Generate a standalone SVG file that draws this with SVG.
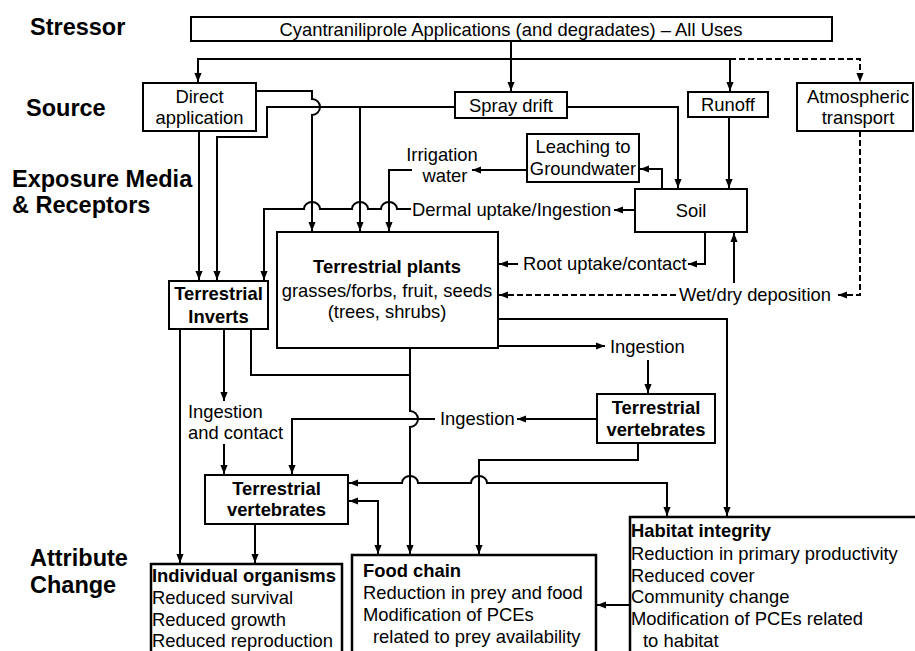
<svg xmlns="http://www.w3.org/2000/svg" width="915" height="651" viewBox="0 0 915 651">
<defs>
<marker id="ah" viewBox="0 0 10 8" markerWidth="9" markerHeight="7.5" refX="10" refY="4" orient="auto-start-reverse" markerUnits="userSpaceOnUse">
<path d="M0,0 L10,4 L0,8 z" fill="#000" stroke="none"/>
</marker>
</defs>
<style>
.box{fill:#fff;stroke:#000;stroke-width:2}
.bbox{fill:#fff;stroke:#000;stroke-width:2.5}
text{font-family:"Liberation Sans",Arial,Helvetica,sans-serif;font-size:18.4px;fill:#000}
.b{font-weight:bold}
.c{text-anchor:middle}
.lbl{font-size:23.5px;font-weight:bold}
.ln{fill:none;stroke:#000;stroke-width:2}
.ar{marker-end:url(#ah)}
.ar2{marker-start:url(#ah);marker-end:url(#ah)}
.d{stroke-dasharray:6 3}
</style>
<rect width="915" height="651" fill="#fff"/>

<g id="tier-labels">
<text class="lbl" x="30" y="35">Stressor</text>
<text class="lbl" x="26" y="116">Source</text>
<text class="lbl" x="12" y="187">Exposure Media</text>
<text class="lbl" x="12" y="213">&amp; Receptors</text>
<text class="lbl" x="30" y="566">Attribute</text>
<text class="lbl" x="30" y="593">Change</text>
</g>

<g id="connectors">
<path class="ln ar" d="M511,41 V91"/>
<path class="ln ar" d="M730,59 H198 V82"/>
<path class="ln ar" d="M730,59 V91"/>
<path class="ln ar d" d="M730,59 H860 V82"/>
<path class="ln ar" d="M199,131 V280"/>
<path class="ln ar" d="M256,91 H312 V99 A8,8 0 0 1 312,115 V231"/>
<path class="ln ar" d="M455,107 H267 V137 H217 V280"/>
<path class="ln ar" d="M360,107 V231"/>
<path class="ln ar" d="M567,107 H678 V188"/>
<path class="ln ar" d="M729,117 V188"/>
<path class="ln ar" d="M662,189 V169 H640"/>
<path class="ln ar" d="M527,170 H472"/>
<path class="ln ar" d="M412,170 H389 V231"/>
<path class="ln ar" d="M635,210 H614"/>
<path class="ln ar" d="M411,209 H397 A8,7 0 0 0 381,209 H368 A8,7 0 0 0 352,209 H320 A8,7 0 0 0 304,209 H264 V280"/>
<path class="ln ar" d="M705,232 V264 H688"/>
<path class="ln ar" d="M518,264 H499"/>
<path class="ln ar d" d="M860,131 V295 H838"/>
<path class="ln ar" d="M734,283 V233"/>
<path class="ln ar d" d="M676,295 H499"/>
<path class="ln ar" d="M498,319 H727 V516"/>
<path class="ln ar" d="M498,346 H605"/>
<path class="ln ar" d="M648,360 V393"/>
<path class="ln ar" d="M597,419 H517"/>
<path class="ln ar" d="M435,419 H292 V474"/>
<path class="ln ar" d="M410,348 V411 A8,8 0 0 1 410,427 V554"/>
<path class="ln" d="M251,329 V375 H410"/>
<path class="ln ar" d="M224,329 V401"/>
<path class="ln ar" d="M224,444 V474"/>
<path class="ln ar" d="M180,329 V563"/>
<path class="ln ar" d="M255,524 V563"/>
<path class="ln ar2" d="M349,483 H402 A8,7 0 0 1 418,483 H471 A8,7 0 0 1 487,483 H667 V516"/>
<path class="ln ar2" d="M349,501 H378 V554"/>
<path class="ln ar" d="M638,443 V460 H479 V554"/>
<path class="ln ar" d="M629,605 H597"/>
</g>

<g id="edge-labels">
<text class="c" x="442" y="161">Irrigation</text>
<text class="c" x="445" y="182">water</text>
<text x="412" y="216">Dermal uptake/Ingestion</text>
<text x="523" y="270">Root uptake/contact</text>
<text x="679" y="301">Wet/dry deposition</text>
<text x="610" y="353">Ingestion</text>
<text x="440" y="425">Ingestion</text>
<text x="188" y="418">Ingestion</text>
<text x="188" y="439">and contact</text>
</g>

<g id="stressor">
<rect class="box" x="191" y="17" width="641" height="24"/>
<text class="c" x="511" y="36">Cyantraniliprole Applications (and degradates) – All Uses</text>
</g>
<g id="direct-application">
<rect class="box" x="143" y="83" width="113" height="48"/>
<text class="c" x="199.5" y="103">Direct</text>
<text class="c" x="199.5" y="124">application</text>
</g>
<g id="spray-drift">
<rect class="box" x="455" y="92" width="112" height="26"/>
<text class="c" x="511" y="111.5">Spray drift</text>
</g>
<g id="runoff">
<rect class="box" x="688" y="92" width="80" height="25"/>
<text class="c" x="728" y="111">Runoff</text>
</g>
<g id="atmospheric-transport">
<rect class="box" x="797" y="83" width="116" height="48"/>
<text class="c" x="858" y="103">Atmospheric</text>
<text class="c" x="858" y="124">transport</text>
</g>
<g id="leaching">
<rect class="box" x="527" y="134" width="112" height="48"/>
<text class="c" x="583" y="153">Leaching to</text>
<text class="c" x="583" y="175">Groundwater</text>
</g>
<g id="soil">
<rect class="box" x="635" y="189" width="112" height="43"/>
<text class="c" x="691" y="217">Soil</text>
</g>
<g id="terrestrial-inverts">
<rect class="box" x="169" y="281" width="99" height="48"/>
<text class="c b" x="218.5" y="300">Terrestrial</text>
<text class="c b" x="218.5" y="323">Inverts</text>
</g>
<g id="terrestrial-plants">
<rect class="box" x="277" y="232" width="221" height="116"/>
<text class="c b" x="387" y="273">Terrestrial plants</text>
<text class="c" x="387" y="297">grasses/forbs, fruit, seeds</text>
<text class="c" x="387" y="318">(trees, shrubs)</text>
</g>
<g id="terrestrial-vertebrates-right">
<rect class="box" x="597" y="394" width="118" height="49"/>
<text class="c b" x="656" y="414">Terrestrial</text>
<text class="c b" x="656" y="436">vertebrates</text>
</g>
<g id="terrestrial-vertebrates-left">
<rect class="box" x="205" y="475" width="143" height="49"/>
<text class="c b" x="276.5" y="495">Terrestrial</text>
<text class="c b" x="276.5" y="516">vertebrates</text>
</g>
<g id="individual-organisms">
<rect class="bbox" x="151" y="564" width="191" height="100"/>
<text class="b" x="152" y="582">Individual organisms</text>
<text x="152" y="604">Reduced survival</text>
<text x="152" y="625.5">Reduced growth</text>
<text x="152" y="647">Reduced reproduction</text>
</g>
<g id="food-chain">
<rect class="bbox" x="352" y="555" width="244" height="110"/>
<text class="b" x="363" y="577">Food chain</text>
<text x="363" y="599">Reduction in prey and food</text>
<text x="363" y="621">Modification of PCEs</text>
<text x="373" y="643">related to prey availability</text>
</g>
<g id="habitat-integrity">
<rect class="bbox" x="630" y="517" width="300" height="150"/>
<text class="b" x="631" y="537">Habitat integrity</text>
<text x="631" y="560">Reduction in primary productivity</text>
<text x="631" y="582">Reduced cover</text>
<text x="631" y="603">Community change</text>
<text x="631" y="625">Modification of PCEs related</text>
<text x="643" y="647">to habitat</text>
</g>
</svg>
